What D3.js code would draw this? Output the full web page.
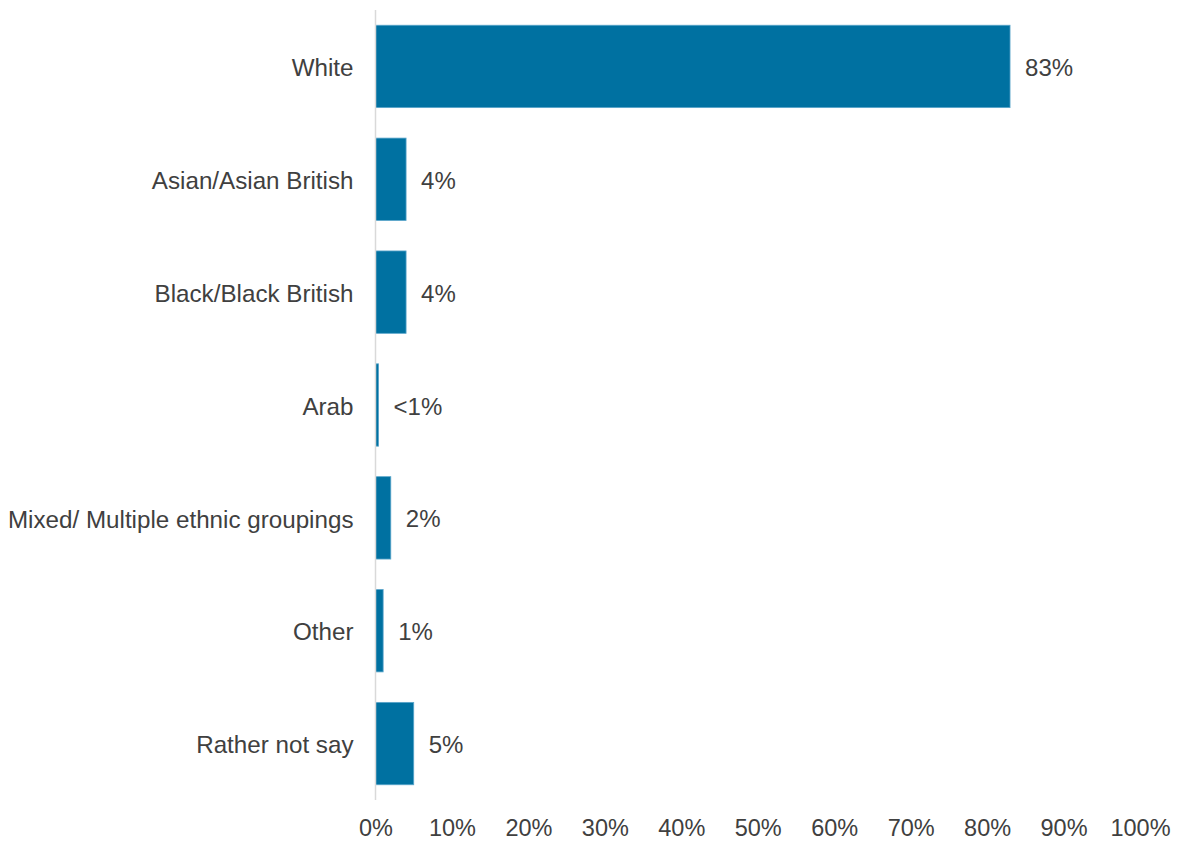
<!DOCTYPE html>
<html>
<head>
<meta charset="utf-8">
<script src="https://cdn.jsdelivr.net/npm/d3@7"></script>
<style>
  html, body { margin: 0; padding: 0; background: #ffffff; }
  svg { display: block; }
  text { font-family: "Liberation Sans", Arial, sans-serif; fill: #404040; }
</style>
</head>
<body>
<svg id="chart" width="1177" height="842"></svg>
<script>
// Ethnicity of respondents (share of total)
const categories = ["White", "Asian/Asian British", "Black/Black British", "Arab",
  "Mixed/ Multiple ethnic groupings", "Other", "Rather not say"];
const values = [83, 4, 4, 0.4, 2, 1, 5];
const valueLabels = ["83%", "4%", "4%", "<1%", "2%", "1%", "5%"];
const tickValues = [0, 10, 20, 30, 40, 50, 60, 70, 80, 90, 100];

const svg = d3.select("#chart");
const x0 = 375.5, x1 = 1140, yTop = 10, yBottom = 800;

const x = d3.scaleLinear().domain([0, 100]).range([x0, x1]);
const y = d3.scaleBand().domain(categories).range([yTop, yBottom]).paddingInner(0.27).paddingOuter(0.135);

// bars
svg.append("g").selectAll("rect")
  .data(values)
  .join("rect")
  .attr("x", x(0))
  .attr("y", (d, i) => y(categories[i]))
  .attr("width", d => x(d) - x(0))
  .attr("height", y.bandwidth())
  .attr("fill", "#0071a1")
  .attr("stroke", "#5aa6cb")
  .attr("stroke-width", 0.8);

// vertical category axis line
svg.append("line")
  .attr("x1", x0).attr("x2", x0)
  .attr("y1", yTop).attr("y2", yBottom)
  .attr("stroke", "#d9d9d9")
  .attr("stroke-width", 1.5);

// category labels
const yAxis = d3.axisLeft(y).tickSize(0).tickPadding(22);
const gy = svg.append("g").attr("transform", `translate(${x0},0)`).call(yAxis);
gy.select(".domain").remove();
gy.selectAll("text")
  .style("font-size", "24.2px")
  .attr("dy", "0.4em")
  .attr("fill", "#404040")
  .attr("font-family", "Liberation Sans, Arial, sans-serif");

// value axis labels
const xAxis = d3.axisBottom(x).tickValues(tickValues).tickSize(0).tickPadding(0)
  .tickFormat(d => d + "%");
const gx = svg.append("g").attr("transform", `translate(0,${yBottom + 19})`).call(xAxis);
gx.select(".domain").remove();
gx.selectAll("text")
  .style("font-size", "23.5px")
  .attr("fill", "#404040")
  .attr("font-family", "Liberation Sans, Arial, sans-serif");

// value labels at bar ends
svg.append("g").selectAll("text")
  .data(values)
  .join("text")
  .attr("x", d => x(d) + 15)
  .attr("y", (d, i) => y(categories[i]) + y.bandwidth() / 2)
  .attr("dy", "0.4em")
  .style("font-size", "24px")
  .text((d, i) => valueLabels[i]);
</script>
</body>
</html>
